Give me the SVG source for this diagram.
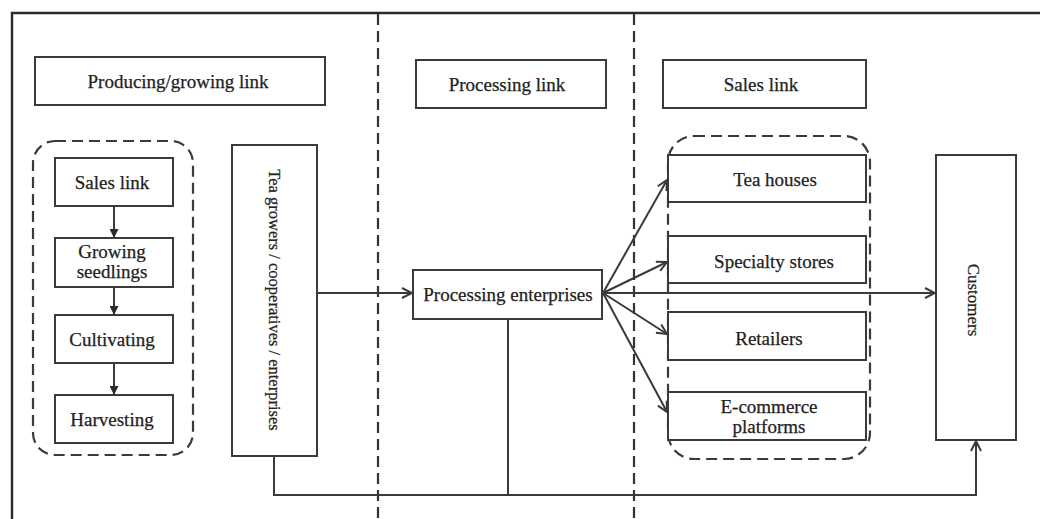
<svg xmlns="http://www.w3.org/2000/svg" width="1040" height="519" viewBox="0 0 1040 519">
<defs>
<style>
.box{fill:#fff;stroke:#3a3a3a;stroke-width:2}
.dash{fill:none;stroke:#3a3a3a;stroke-width:2.2;stroke-dasharray:11 6}
.lane{fill:none;stroke:#333;stroke-width:2.2;stroke-dasharray:11 6}
.frame{fill:none;stroke:#2a2a2a;stroke-width:2.4}
.c{fill:none;stroke:#3a3a3a;stroke-width:2}
text{font-family:"Liberation Serif","Times New Roman",serif;font-size:19px;fill:#222;stroke:#222;stroke-width:0.25;text-anchor:middle}
.v{font-size:16.5px}
.cu{font-size:17px}
</style>
<marker id="v" viewBox="0 0 12 12" refX="11" refY="6" markerWidth="12" markerHeight="12" markerUnits="userSpaceOnUse" orient="auto">
<path d="M1,1 L11,6 L1,11" fill="none" stroke="#3a3a3a" stroke-width="2"/>
</marker>
<marker id="t" viewBox="0 0 10 10" refX="10" refY="5" markerWidth="9" markerHeight="9" markerUnits="userSpaceOnUse" orient="auto">
<path d="M0,0 L10,5 L0,10 Z" fill="#2a2a2a"/>
</marker>
</defs>
<rect width="1040" height="519" fill="#fff"/>
<g id="frame">
<path class="frame" d="M12,519 V13 H1040"/>
<line class="lane" x1="378" y1="14" x2="378" y2="519"/>
<line class="lane" x1="634" y1="14" x2="634" y2="519"/>
</g>
<g id="header-producing"><rect class="box" x="35" y="57" width="290" height="48"/><text x="178" y="88">Producing/growing link</text></g>
<g id="header-processing"><rect class="box" x="416" y="60" width="190" height="48"/><text x="507" y="91">Processing link</text></g>
<g id="header-sales"><rect class="box" x="663" y="60" width="203" height="48"/><text x="761" y="91">Sales link</text></g>
<g id="group-growing"><rect class="dash" x="33" y="141" width="160" height="314" rx="22"/></g>
<g id="sales-link"><rect class="box" x="55" y="158" width="118" height="48"/><text x="112" y="189">Sales link</text></g>
<g id="growing-seedlings"><rect class="box" x="55" y="238" width="118" height="49"/><text x="112" y="258">Growing</text><text x="112" y="278">seedlings</text></g>
<g id="cultivating"><rect class="box" x="55" y="315" width="118" height="48"/><text x="112" y="346">Cultivating</text></g>
<g id="harvesting"><rect class="box" x="55" y="395" width="118" height="48"/><text x="112" y="426">Harvesting</text></g>
<g id="tea-growers"><rect class="box" x="232" y="145" width="85" height="311"/><text class="v" transform="translate(269,300) rotate(90)">Tea growers / cooperatives / enterprises</text></g>
<g id="processing-enterprises"><rect class="box" x="413" y="270" width="189" height="49"/><text x="508" y="301">Processing enterprises</text></g>
<g id="group-sales"><rect class="dash" x="668" y="136" width="202" height="323" rx="26"/></g>
<g id="tea-houses"><rect class="box" x="668" y="155" width="198" height="47"/><text x="775" y="186">Tea houses</text></g>
<g id="specialty-stores"><rect class="box" x="668" y="236" width="198" height="47"/><text x="774" y="268">Specialty stores</text></g>
<g id="retailers"><rect class="box" x="668" y="312" width="198" height="48"/><text x="769" y="345">Retailers</text></g>
<g id="e-commerce"><rect class="box" x="668" y="392" width="198" height="48"/><text x="769" y="413">E-commerce</text><text x="769" y="433">platforms</text></g>
<g id="customers"><rect class="box" x="936" y="155" width="80" height="285"/><text class="cu" transform="translate(968,300) rotate(90)">Customers</text></g>
<g id="connectors">
<line class="c" x1="114" y1="206" x2="114" y2="238" marker-end="url(#t)"/>
<line class="c" x1="114" y1="287" x2="114" y2="315" marker-end="url(#t)"/>
<line class="c" x1="114" y1="363" x2="114" y2="395" marker-end="url(#t)"/>
<line class="c" x1="317" y1="293" x2="412" y2="293" marker-end="url(#v)"/>
<line class="c" x1="603" y1="293" x2="667" y2="180" marker-end="url(#v)"/>
<line class="c" x1="603" y1="293" x2="667" y2="262" marker-end="url(#v)"/>
<line class="c" x1="603" y1="293" x2="935" y2="293" marker-end="url(#v)"/>
<line class="c" x1="603" y1="293" x2="667" y2="334" marker-end="url(#v)"/>
<line class="c" x1="603" y1="293" x2="667" y2="412" marker-end="url(#v)"/>
<polyline class="c" points="274,456 274,495 976,495 976,441" marker-end="url(#v)"/>
<line class="c" x1="508" y1="319" x2="508" y2="495"/>
</g>
</svg>
